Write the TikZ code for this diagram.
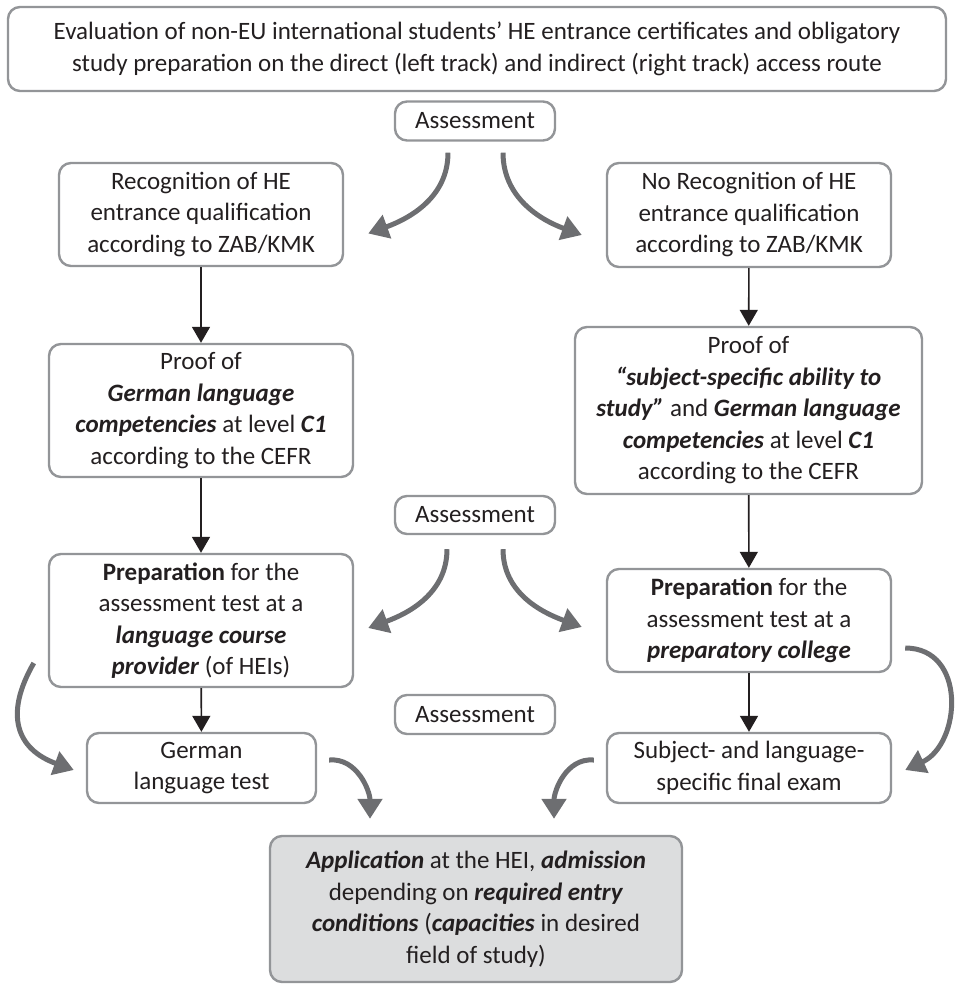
\documentclass[tikz,border=0pt]{standalone}
\usepackage{fontspec}
\setmainfont{Carlito}
\usepackage{xcolor}
\definecolor{FrameGray}{HTML}{939598}
\definecolor{CurveGray}{HTML}{6D6E71}
\definecolor{FillGray}{HTML}{DCDDDE}
\definecolor{InkDark}{HTML}{231F20}
\usetikzlibrary{arrows.meta}
\newcommand{\bi}[1]{\textbf{\textit{#1}}}

\begin{document}
\begin{tikzpicture}[
  x=0.5pt,y=-0.5pt,
  box/.style={draw=FrameGray,line width=1.2pt,rounded corners=6pt,fill=white,align=center,text=InkDark,font=\fontsize{12.5}{15.75}\selectfont,inner sep=0pt},
  flow/.style={draw=InkDark,line width=0.8pt,-{Triangle[length=8pt,width=9pt]}},
  swing/.style={draw=CurveGray,line width=2.5pt,-{Triangle[length=10pt,width=12pt]}}
]
\useasboundingbox (0,0) rectangle (954,990);

\node[box,minimum width=469pt,minimum height=42pt] (title) at (477,49) {Evaluation of non-EU international students’ HE entrance certificates and obligatory\\study preparation on the direct (left track) and indirect (right track) access route};

\node[box,minimum width=80pt,minimum height=19.5pt] (assessA) at (475,121) {Assessment};
\node[box,minimum width=142pt,minimum height=51.5pt] (reco) at (201,214.5) {Recognition of HE\\entrance qualification\\according to ZAB/KMK};
\node[box,minimum width=142pt,minimum height=52pt] (noreco) at (749,215) {No Recognition of HE\\entrance qualification\\according to ZAB/KMK};

\node[box,minimum width=152pt,minimum height=66.5pt] (proofL) at (201,410.5) {Proof of\\\bi{German language}\\\bi{competencies} at level \bi{C1}\\according to the CEFR};
\node[box,minimum width=173.5pt,minimum height=83.5pt] (proofR) at (748.5,410.5) {Proof of\\\bi{“subject-specific ability to}\\\bi{study”} and \bi{German language}\\\bi{competencies} at level \bi{C1}\\according to the CEFR};

\node[box,minimum width=80pt,minimum height=19pt] (assessB) at (475,515) {Assessment};
\node[box,minimum width=152pt,minimum height=66.5pt] (prepL) at (201,620.5) {\textbf{Preparation} for the\\assessment test at a\\\bi{language course}\\\bi{provider} (of HEIs)};
\node[box,minimum width=142pt,minimum height=51.5pt] (prepR) at (749,620.5) {\textbf{Preparation} for the\\assessment test at a\\\bi{preparatory college}};

\node[box,minimum width=80pt,minimum height=19.5pt] (assessC) at (475,714.5) {Assessment};
\node[box,minimum width=114.5pt,minimum height=35pt] (langtest) at (201.5,768) {German\\language test};
\node[box,minimum width=142pt,minimum height=35pt] (finalexam) at (749,768) {Subject- and language-\\specific final exam};

\node[box,fill=FillGray,minimum width=206pt,minimum height=73pt] (apply) at (476,909) {\bi{Application} at the HEI, \bi{admission}\\depending on \bi{required entry}\\\bi{conditions} (\bi{capacities} in desired\\field of study)};

\draw[flow] (reco) -- (proofL);
\draw[flow] (proofL) -- (prepL);
\draw[flow] (prepL) -- (langtest);
\draw[flow] (noreco) -- (proofR);
\draw[flow] (proofR) -- (prepR);
\draw[flow] (prepR) -- (finalexam);

\draw[swing] ([shift={(-27,11)}]assessA.south) to[out=-90,in=20] ([shift={(24,19)}]reco.east);
\draw[swing] ([shift={(28,11)}]assessA.south) to[out=-90,in=160] ([shift={(-24,20)}]noreco.west);
\draw[swing] ([shift={(-28,14)}]assessB.south) to[out=-90,in=20] ([shift={(14,7.5)}]prepL.east);
\draw[swing] ([shift={(28,14)}]assessB.south) to[out=-90,in=160] ([shift={(-24,6.5)}]prepR.west);
\draw[swing] ([shift={(-14,42.5)}]prepL.west) to[out=240,in=160,looseness=1.35] ([shift={(-12,2)}]langtest.west);
\draw[swing] ([shift={(13,27.5)}]prepR.east) to[out=0,in=25,looseness=1.3] ([shift={(13,2)}]finalexam.east);
\draw[swing] ([shift={(12,-8)}]langtest.east) to[out=5,in=90] ([shift={(-106,-16)}]apply.north);
\draw[swing] ([shift={(-12,-8)}]finalexam.west) to[out=175,in=90] ([shift={(78,-16)}]apply.north);
\end{tikzpicture}
\end{document}
